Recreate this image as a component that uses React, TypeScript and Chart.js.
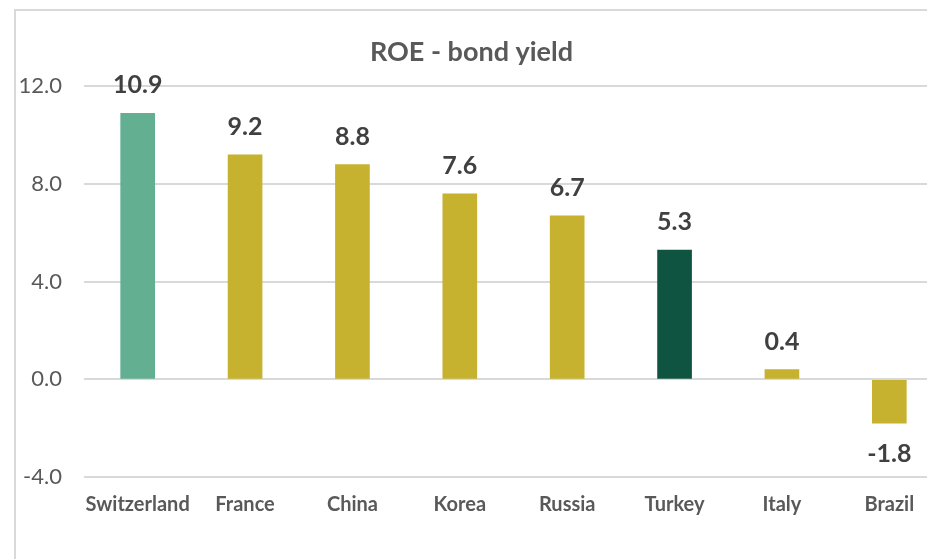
import React, { useEffect, useRef } from "react";
import { Chart, registerables } from "chart.js";

Chart.register(...registerables);

const categories = ["Switzerland", "France", "China", "Korea", "Russia", "Turkey", "Italy", "Brazil"];
const values = [10.9, 9.2, 8.8, 7.6, 6.7, 5.3, 0.4, -1.8];
const barColors = ["#63AF91", "#C6B22F", "#C6B22F", "#C6B22F", "#C6B22F", "#0F5440", "#C6B22F", "#C6B22F"];
const titleText = "ROE - bond yield";
const yMin = -4;
const yMax = 12;
const yStep = 4;

const FONT = "Lato, 'Open Sans', sans-serif";

const framePlugin = {
  id: "frame",
  beforeDraw(chart: any) {
    const ctx = chart.ctx;
    ctx.save();
    ctx.fillStyle = "#FFFFFF";
    ctx.fillRect(0, 0, chart.width, chart.height);
    ctx.strokeStyle = "#D9D9D9";
    ctx.lineWidth = 2;
    ctx.strokeRect(15, 10, 926, 700);
    ctx.restore();
  },
};

const labelPlugin = {
  id: "valueLabels",
  afterDatasetsDraw(chart: any) {
    const ctx = chart.ctx;
    const meta = chart.getDatasetMeta(0);
    ctx.save();
    ctx.font = `bold 25px ${FONT}`;
    ctx.fillStyle = "#404040";
    ctx.textAlign = "center";
    ctx.textBaseline = "middle";
    meta.data.forEach((bar: any, i: number) => {
      const v = values[i];
      const y = v >= 0 ? bar.y - 28 : bar.y + 31;
      ctx.fillText(v.toFixed(1), bar.x, y);
    });
    ctx.restore();
  },
};

export default function App() {
  const ref = useRef<HTMLCanvasElement>(null);
  useEffect(() => {
    if (!ref.current) return;
    const chart = new Chart(ref.current, {
      type: "bar",
      data: {
        labels: categories,
        datasets: [
          {
            data: values,
            backgroundColor: barColors,
            barThickness: 34,
          },
        ],
      },
      options: {
        animation: false,
        responsive: false,
        maintainAspectRatio: false,
        layout: { padding: { left: 0, right: 14, top: 0, bottom: 26 } },
        plugins: {
          legend: { display: false },
          tooltip: { enabled: false },
          title: {
            display: true,
            text: titleText,
            color: "#595959",
            font: { family: FONT, size: 27, weight: "bold" },
            padding: { top: 36, bottom: 18 },
          },
        },
        scales: {
          x: {
            grid: { display: false, drawTicks: false },
            border: { display: false },
            ticks: {
              color: "#595959",
              font: { family: FONT, size: 20, weight: "bold" },
              padding: 16,
              maxRotation: 0,
              autoSkip: false,
            },
          },
          y: {
            min: yMin,
            max: yMax,
            afterFit(scale: any) {
              scale.width = 84;
            },
            grid: { color: "#D9D9D9", lineWidth: 2, drawTicks: false },
            border: { display: false },
            ticks: {
              stepSize: yStep,
              color: "#595959",
              font: { family: FONT, size: 22 },
              padding: 22,
              callback: (v: any) => Number(v).toFixed(1),
            },
          },
        },
      },
      plugins: [framePlugin, labelPlugin],
    });
    return () => chart.destroy();
  }, []);
  return (
    <div style={{ position: "fixed", left: 0, top: 0, width: 927, height: 559, overflow: "hidden", background: "#fff" }}>
      <canvas ref={ref} width={957} height={559} style={{ display: "block" }} />
    </div>
  );
}
